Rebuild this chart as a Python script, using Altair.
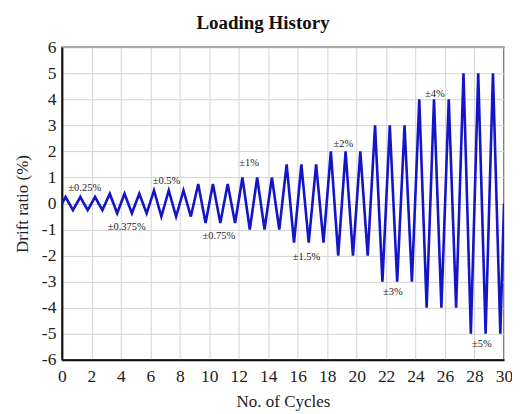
import altair as alt
import pandas as pd

# amplitude of each group of 3 cycles (drift ratio %)
amplitudes = [0.25, 0.375, 0.5, 0.75, 1, 1.5, 2, 3, 4, 5]
cycles_per_step = [3, 3, 3, 3, 3, 3, 3, 3, 3, 3]

label_text = ["±0.25%", "±0.375%", "±0.5%", "±0.75%", "±1%", "±1.5%", "±2%", "±3%", "±4%", "±5%"]
label_x = [1.55, 4.4, 7.1, 10.65, 12.7, 16.6, 19.1, 22.45, 25.3, 28.5]
label_y = [0.6, -0.9, 0.86, -1.25, 1.55, -2.05, 2.3, -3.4, 4.2, -5.4]

x_ticks = list(range(0, 31, 2))
y_ticks = list(range(-6, 7, 1))

# build the loading history: start at 0, peak at +A, trough at -A each cycle, end at 0
xs, ys = [0.0], [0.0]
c = 0
for amp, n in zip(amplitudes, cycles_per_step):
    for _ in range(n):
        xs.append(c + 0.25); ys.append(amp)
        xs.append(c + 0.75); ys.append(-amp)
        c += 1
xs.append(float(c)); ys.append(0.0)
wave = pd.DataFrame({"cycle": xs, "drift": ys, "order": range(len(xs))})
labels = pd.DataFrame({"x": label_x, "y": label_y, "t": label_text})

FONT = "Liberation Serif"

xscale = alt.Scale(domain=[0, 30], nice=False, zero=False)
yscale = alt.Scale(domain=[-6, 6], nice=False, zero=False)

x_axis = alt.Axis(title="No. of Cycles", values=x_ticks, tickCount=40, grid=True, ticks=False,
                  labelOverlap=False, labelExpr="'' + datum.value",
                  labelFontSize=17.5, titleFontSize=17, labelPadding=8,
                  titlePadding=8, domainColor="#111111", domainWidth=2,
                  labelFlush=False)
y_axis = alt.Axis(title="Drift ratio (%)", values=y_ticks, tickCount=40, grid=True, ticks=False,
                  labelOverlap=False, labelExpr="'' + datum.value",
                  labelFontSize=17.5, titleFontSize=17, labelPadding=6,
                  titlePadding=10, domainColor="#111111", domainWidth=2,
                  labelFlush=False)

line = alt.Chart(wave).mark_line(color="#1414c8", strokeWidth=2.6, clip=True).encode(
    x=alt.X("cycle:Q", scale=xscale, axis=x_axis),
    y=alt.Y("drift:Q", scale=yscale, axis=y_axis),
    order="order:Q",
)

text = alt.Chart(labels).mark_text(font=FONT, fontSize=10.5, color="#222222").encode(
    x=alt.X("x:Q", scale=xscale, axis=x_axis),
    y=alt.Y("y:Q", scale=yscale, axis=y_axis),
    text="t:N",
)

chart = (
    alt.layer(line, text)
    .properties(
        width=443,
        height=313,
        title=alt.TitleParams("Loading History", font=FONT, fontSize=19, fontWeight="bold",
                              anchor="middle", dx=-20, offset=5, color="#111111"),
        autosize=alt.AutoSizeParams(type="none"),
        padding={"left": 54, "top": 39, "right": 8, "bottom": 52},
    )
    .configure_axis(labelFont=FONT, titleFont=FONT, labelColor="#222222", titleColor="#222222",
                    titleFontWeight="normal", gridColor="#d4d4d4", gridWidth=1)
    .configure_view(stroke="#555555", strokeWidth=1.5)
)

chart.save("out.html", embed_options={"renderer": "svg", "actions": False})
